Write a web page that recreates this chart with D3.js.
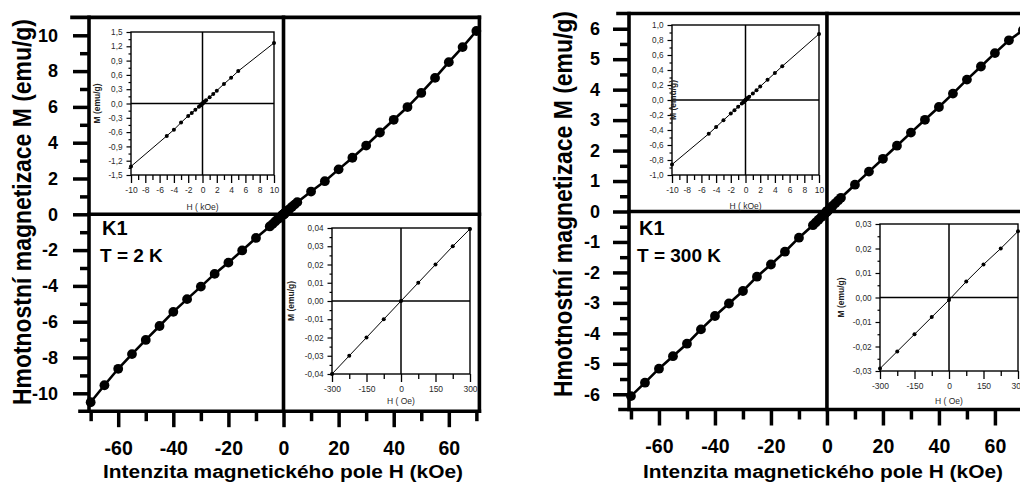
<!DOCTYPE html>
<html><head><meta charset="utf-8">
<script src="https://cdn.jsdelivr.net/npm/d3@7"></script>
<style>
body{margin:0;background:#fff}
svg{display:block}
text{font-family:"Liberation Sans",Arial,Helvetica,sans-serif}
</style>
</head><body>
<svg id="c" width="1020" height="484"></svg>
<script>
// ---------- DATA ----------
const fieldH = [-70,-65,-60,-55,-50,-45,-40,-35,-30,-25,-20,-15,-10,-5,
  -4,-3,-2,-1.5,-1,-0.5,-0.3,-0.225,-0.15,-0.075,0,0.075,0.15,0.225,0.3,0.5,1,1.5,2,3,4,
  5,10,15,20,25,30,35,40,45,50,55,60,65,70];
const M_2K = [-10.50,-9.55,-8.63,-7.81,-7.02,-6.24,-5.45,-4.74,-4.04,-3.33,-2.70,-2.02,-1.32,-0.68,
  -0.55,-0.40,-0.26,-0.20,-0.13,-0.066,-0.040,-0.030,-0.020,-0.010,0.000,0.010,0.020,0.030,0.0395,0.066,0.13,0.20,0.27,0.41,0.54,
  0.68,1.27,1.85,2.51,3.16,3.84,4.57,5.28,5.99,6.78,7.62,8.50,9.34,10.24];
const M_300K = [-6.06,-5.62,-5.16,-4.75,-4.34,-3.87,-3.43,-3.02,-2.61,-2.14,-1.74,-1.32,-0.86,-0.45,
  -0.36,-0.27,-0.18,-0.135,-0.09,-0.045,-0.029,-0.022,-0.015,-0.008,-0.001,0.0065,0.0135,0.020,0.027,0.043,0.088,0.13,0.18,0.27,0.36,
  0.45,0.88,1.31,1.73,2.16,2.59,3.01,3.43,3.87,4.33,4.76,5.20,5.62,5.95];

const xTicksMain = [-60,-40,-20,0,20,40,60];
const xMinorMain = [-70,-50,-30,-10,10,30,50,70];
const yTicks2K = [-10,-8,-6,-4,-2,0,2,4,6,8,10];
const yMinor2K = [-9,-7,-5,-3,-1,1,3,5,7,9];
const yTicks300K = [-6,-5,-4,-3,-2,-1,0,1,2,3,4,5,6];
const yMinor300K = [-5.5,-4.5,-3.5,-2.5,-1.5,-0.5,0.5,1.5,2.5,3.5,4.5,5.5];

const insetHTicks = [-10,-8,-6,-4,-2,0,2,4,6,8,10];
const insetHMinor = [-9,-7,-5,-3,-1,1,3,5,7,9];
const insetMTicks2K = [-1.5,-1.2,-0.9,-0.6,-0.3,0,0.3,0.6,0.9,1.2,1.5];
const insetMMinor2K = [-1.35,-1.05,-0.75,-0.45,-0.15,0.15,0.45,0.75,1.05,1.35];
const insetMTicks300K = [-1.0,-0.8,-0.6,-0.4,-0.2,0,0.2,0.4,0.6,0.8,1.0];
const insetMMinor300K = [-0.9,-0.7,-0.5,-0.3,-0.1,0.1,0.3,0.5,0.7,0.9];

const lowHTicks = [-300,-150,0,150,300];
const lowHMinor = [-225,-75,75,225];
const lowMTicks2K = [-0.04,-0.03,-0.02,-0.01,0,0.01,0.02,0.03,0.04];
const lowMMinor2K = [-0.035,-0.025,-0.015,-0.005,0.005,0.015,0.025,0.035];
const lowMTicks300K = [-0.03,-0.02,-0.01,0,0.01,0.02,0.03];
const lowMMinor300K = [-0.025,-0.015,-0.005,0.005,0.015,0.025];

const xTitle = "Intenzita magnetického pole H (kOe)";
const yTitle = "Hmotnostní magnetizace M (emu/g)";
const sampleName = "K1";
const tempLabels = ["T = 2 K", "T = 300 K"];
const insetYLabel = "M (emu/g)";
const insetXLabelHigh = "H ( kOe)";
const insetXLabelLow = "H ( Oe)";

// ---------- DRAW ----------
const svg = d3.select("#c");
const loc = d3.formatLocale({decimal:",", thousands:".", grouping:[3], currency:["",""], minus:"-"});

function styleAxis(sel, sw, fs, bold, fill) {
  sel.select(".domain").remove();
  sel.selectAll(".tick line").attr("stroke","#000").attr("stroke-width",sw);
  sel.selectAll(".tick text").attr("font-size",fs).attr("font-weight",bold?"bold":"normal")
     .attr("fill",fill).attr("font-family",'"Liberation Sans",Arial,sans-serif');
}

function drawMain(cfg) {
  const g = svg.append("g");
  const x = d3.scaleLinear().domain(cfg.xDom).range(cfg.xRange);
  const y = d3.scaleLinear().domain(cfg.yDom).range(cfg.yRange);
  const [L, R] = cfg.xRange, [B, T] = cfg.yRange;
  const lw = 3.6;
  const blk = "#000";

  const gx1 = g.append("g").attr("transform",`translate(0,${B})`)
    .call(d3.axisBottom(x).tickValues(xMinorMain).tickSize(10).tickSizeOuter(0).tickFormat(""));
  styleAxis(gx1, 3.5, 0, true, blk);
  const gx2 = g.append("g").attr("transform",`translate(0,${B})`)
    .call(d3.axisBottom(x).tickValues(xTicksMain).tickSize(16).tickSizeOuter(0).tickPadding(14).tickFormat(d=>String(d)));
  styleAxis(gx2, 3.5, 19.5, true, blk);

  const gy1 = g.append("g").attr("transform",`translate(${L},0)`)
    .call(d3.axisLeft(y).tickValues(cfg.yMinor).tickSize(9).tickSizeOuter(0).tickFormat(""));
  styleAxis(gy1, 3.5, 0, true, blk);
  const gy2 = g.append("g").attr("transform",`translate(${L},0)`)
    .call(d3.axisLeft(y).tickValues(cfg.yTicks).tickSize(16).tickSizeOuter(0).tickPadding(cfg.yPad).tickFormat(d=>String(d)));
  styleAxis(gy2, 3.5, 18, true, blk);

  const line = (x1,y1,x2,y2) => g.append("line").attr("x1",x1).attr("y1",y1).attr("x2",x2).attr("y2",y2)
      .attr("stroke",blk).attr("stroke-width",lw).attr("stroke-linecap","square");
  line(L - 9, B, R, B);
  line(L, T, L, B);
  line(L - cfg.topExt, T, R, T);
  line(R, T, R, B);
  line(x(0), T, x(0), B);
  line(L, y(0), R, y(0));

  const data = fieldH.map((h,i)=>[h, cfg.M[i]]);
  g.append("path").datum(data)
    .attr("d", d3.line().x(d=>x(d[0])).y(d=>y(d[1])))
    .attr("fill","none").attr("stroke",blk).attr("stroke-width",2.6);
  g.selectAll("circle.pt").data(data).join("circle").attr("class","pt")
    .attr("cx",d=>x(d[0])).attr("cy",d=>y(d[1])).attr("r",4.9).attr("fill",blk);

  g.append("text").attr("x",cfg.xTitleX).attr("y",478).attr("text-anchor","middle")
    .attr("font-size",17.5).attr("font-weight","bold").attr("textLength",360).attr("lengthAdjust","spacingAndGlyphs")
    .text(xTitle);
  g.append("text").attr("transform",`translate(${cfg.yTitleX},${cfg.yTitleY}) rotate(-90) scale(1,1.17)`)
    .attr("text-anchor","middle").attr("font-size",21.5).attr("font-weight","bold")
    .attr("textLength",386).attr("lengthAdjust","spacingAndGlyphs")
    .text(yTitle);
  g.append("text").attr("x",cfg.labX+2).attr("y",235).attr("font-size",20).attr("font-weight","bold").text(sampleName);
  g.append("text").attr("x",cfg.labX).attr("y",262).attr("font-size",19).attr("font-weight","bold").text(cfg.tempLabel);
}

function drawInset(cfg) {
  const g = svg.append("g");
  const [l,t,r,b] = cfg.box;
  const x = d3.scaleLinear().domain(cfg.xDom).range([l,r]);
  const y = d3.scaleLinear().domain(cfg.yDom).range([b,t]);
  const fc = "#2a2a2a";

  g.append("rect").attr("x",l).attr("y",t).attr("width",r-l).attr("height",b-t)
    .attr("fill","#fff").attr("stroke","#000").attr("stroke-width",1.4);
  g.append("line").attr("x1",x(0)).attr("x2",x(0)).attr("y1",t).attr("y2",b).attr("stroke","#000").attr("stroke-width",1.5);
  g.append("line").attr("x1",l).attr("x2",r).attr("y1",y(0)).attr("y2",y(0)).attr("stroke","#000").attr("stroke-width",1.5);

  g.append("path").datum(cfg.pts)
    .attr("d", d3.line().x(d=>x(d[0])).y(d=>y(d[1])))
    .attr("fill","none").attr("stroke","#000").attr("stroke-width",1);
  g.selectAll("circle").data(cfg.pts).join("circle")
    .attr("cx",d=>x(d[0])).attr("cy",d=>y(d[1])).attr("r",2).attr("fill","#000");

  const ax1 = g.append("g").attr("transform",`translate(0,${b})`)
    .call(d3.axisBottom(x).tickValues(cfg.xMinor).tickSize(5).tickSizeOuter(0).tickFormat(""));
  styleAxis(ax1, 1.3, 0, false, fc);
  const ax2 = g.append("g").attr("transform",`translate(0,${b})`)
    .call(d3.axisBottom(x).tickValues(cfg.xTicks).tickSize(8).tickSizeOuter(0).tickPadding(cfg.xPad).tickFormat(d=>String(d)));
  styleAxis(ax2, 1.3, 8.5, false, fc);
  const ay1 = g.append("g").attr("transform",`translate(${l},0)`)
    .call(d3.axisLeft(y).tickValues(cfg.yMinor).tickSize(2.5).tickSizeOuter(0).tickFormat(""));
  styleAxis(ay1, 1.2, 0, false, fc);
  const ay2 = g.append("g").attr("transform",`translate(${l},0)`)
    .call(d3.axisLeft(y).tickValues(cfg.yTicks).tickSize(4.5).tickSizeOuter(0).tickPadding(cfg.yPad).tickFormat(loc.format(cfg.yFmt)));
  styleAxis(ay2, 1.2, 8.2, false, fc);

  g.append("text").attr("x",(l+r)/2).attr("y",cfg.xLabY).attr("text-anchor","middle")
    .attr("font-size",8.5).attr("fill",fc).text(cfg.xLabel);
  g.append("text").attr("transform",`translate(${cfg.yLabX},${(t+b)/2}) rotate(-90)`).attr("text-anchor","middle")
    .attr("font-size",8.5).attr("font-weight","bold").attr("fill","#222").text(insetYLabel);
}

function highPts(M) { return fieldH.map((h,i)=>[h,M[i]]).filter(d=>Math.abs(d[0])<=10); }
function lowPts(M) { return fieldH.map((h,i)=>[h*1000,M[i]]).filter(d=>Math.abs(d[0])<=300); }

drawMain({xDom:[-70.6,71.1], xRange:[89,479.4], yDom:[-11,11], yRange:[411.2,17.4], M:M_2K,
  yTicks:yTicks2K, yMinor:yMinor2K, yPad:15, topExt:17, xTitleX:283, yTitleX:31, yTitleY:212,
  labX:100, tempLabel:tempLabels[0]});
drawInset({box:[131,32,274,175], xDom:[-10,10], yDom:[-1.5,1.5], xTicks:insetHTicks, xMinor:insetHMinor,
  yTicks:insetMTicks2K, yMinor:insetMMinor2K, yFmt:".1f", pts:highPts(M_2K), xPad:4, yPad:4,
  xLabel:insetXLabelHigh, xLabY:210, yLabX:100});
drawInset({box:[332,228,470,374], xDom:[-300,300], yDom:[-0.04,0.04], xTicks:lowHTicks, xMinor:lowHMinor,
  yTicks:lowMTicks2K, yMinor:lowMMinor2K, yFmt:".2f", pts:lowPts(M_2K), xPad:4, yPad:4,
  xLabel:insetXLabelLow, xLabY:404, yLabX:294});

drawMain({xDom:[-70.7,71.1], xRange:[629,1026], yDom:[-6.5,6.5], yRange:[409.5,13.5], M:M_300K,
  yTicks:yTicks300K, yMinor:yMinor300K, yPad:13, topExt:11, xTitleX:823, yTitleX:572, yTitleY:204,
  labX:637, tempLabel:tempLabels[1]});
drawInset({box:[672,25,819,175], xDom:[-10,10], yDom:[-1.0,1.0], xTicks:insetHTicks, xMinor:insetHMinor,
  yTicks:insetMTicks300K, yMinor:insetMMinor300K, yFmt:".1f", pts:highPts(M_300K), xPad:4, yPad:4,
  xLabel:insetXLabelHigh, xLabY:209, yLabX:676});
drawInset({box:[880,224,1018,371], xDom:[-300,300], yDom:[-0.03,0.03], xTicks:lowHTicks, xMinor:lowHMinor,
  yTicks:lowMTicks300K, yMinor:lowMMinor300K, yFmt:".2f", pts:lowPts(M_300K), xPad:4, yPad:4,
  xLabel:insetXLabelLow, xLabY:404, yLabX:844});
</script>
</body></html>
